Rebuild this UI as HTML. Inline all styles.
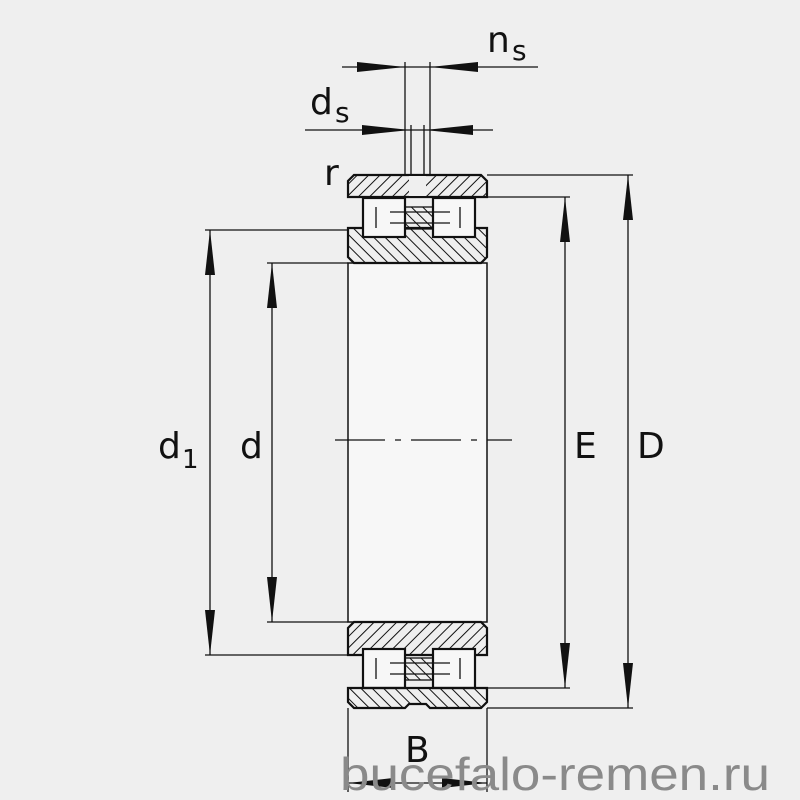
<!DOCTYPE html>
<html><head><meta charset="utf-8"><style>
html,body{margin:0;padding:0;background:#efefef;}
svg{display:block}
text{font-family:"DejaVu Sans","Liberation Sans",sans-serif;fill:#111}
</style></head><body>
<svg width="800" height="800" viewBox="0 0 800 800" xmlns="http://www.w3.org/2000/svg">
<defs>
<pattern id="h1" patternUnits="userSpaceOnUse" width="8" height="8" patternTransform="rotate(45)"><line x1="0" y1="0" x2="0" y2="8" stroke="#111" stroke-width="2"/></pattern>
<pattern id="h2" patternUnits="userSpaceOnUse" width="8" height="8" patternTransform="rotate(-45)"><line x1="0" y1="0" x2="0" y2="8" stroke="#111" stroke-width="2"/></pattern>
</defs>
<rect width="800" height="800" fill="#efefef"/>
<rect x="348" y="263" width="139" height="359" fill="#f7f7f7" stroke="#111" stroke-width="1.5"/>
<g stroke="#111" stroke-width="1.3" fill="none">
<line x1="205" y1="230" x2="348" y2="230"/>
<line x1="205" y1="655" x2="348" y2="655"/>
<line x1="267" y1="263" x2="348" y2="263"/>
<line x1="267" y1="622" x2="348" y2="622"/>
<line x1="487" y1="197" x2="570" y2="197"/>
<line x1="487" y1="688" x2="570" y2="688"/>
<line x1="487" y1="175" x2="633" y2="175"/>
<line x1="487" y1="708" x2="633" y2="708"/>
<line x1="210" y1="230" x2="210" y2="655"/>
<line x1="272" y1="263" x2="272" y2="622"/>
<line x1="565" y1="197" x2="565" y2="688"/>
<line x1="628" y1="175" x2="628" y2="708"/>
<line x1="342" y1="67" x2="538" y2="67"/>
<line x1="305" y1="130" x2="493" y2="130"/>
<line x1="405" y1="62" x2="405" y2="175"/>
<line x1="430" y1="62" x2="430" y2="175"/>
<line x1="411" y1="125" x2="411" y2="175"/>
<line x1="424" y1="125" x2="424" y2="175"/>
<line x1="348" y1="708" x2="348" y2="792"/>
<line x1="487" y1="708" x2="487" y2="792"/>
<line x1="348" y1="783" x2="487" y2="783"/>
<line x1="335" y1="440" x2="512" y2="440" stroke-dasharray="50,10,6,10"/>
</g>
<g fill="#111">
<polygon points="210,230 205,275 215,275"/><polygon points="210,655 205,610 215,610"/>
<polygon points="272,263 267,308 277,308"/><polygon points="272,622 267,577 277,577"/>
<polygon points="565,197 560,242 570,242"/><polygon points="565,688 560,643 570,643"/>
<polygon points="628,175 623,220 633,220"/><polygon points="628,708 623,663 633,663"/>
<polygon points="405,67 357,62 357,72"/><polygon points="430,67 478,62 478,72"/>
<polygon points="410,130 362,125 362,135"/><polygon points="425,130 473,125 473,135"/>
<polygon points="348,783 393,778 393,788"/><polygon points="487,783 442,778 442,788"/>
</g>
<g stroke="#111" stroke-width="2.2">
<path d="M354,175 H481 L487,181 V197 H348 V181 Z" fill="url(#h1)"/>
<rect x="409" y="176" width="17" height="20" fill="#efefef" stroke="none"/>
<path d="M348,228 H487 V257 L481,263 H354 L348,257 Z" fill="url(#h2)"/>
<rect x="363" y="198" width="42" height="39" fill="#f7f7f7"/>
<rect x="433" y="198" width="42" height="39" fill="#f7f7f7"/>
<rect x="405" y="207" width="28" height="22" fill="url(#h2)" stroke-width="1.3"/>
<path d="M354,622 H481 L487,628 V655 H348 V628 Z" fill="url(#h1)"/>
<rect x="363" y="649" width="42" height="39" fill="#f7f7f7"/>
<rect x="433" y="649" width="42" height="39" fill="#f7f7f7"/>
<rect x="405" y="658" width="28" height="22" fill="url(#h2)" stroke-width="1.3"/>
<path d="M348,688 H487 V702 L481,708 H430 L426,704 H409 L405,708 H354 L348,702 Z" fill="url(#h2)"/>
</g>
<g stroke="#111" stroke-width="1.3">
<line x1="376" y1="207" x2="376" y2="228"/><line x1="460" y1="207" x2="460" y2="228"/>
<line x1="376" y1="658" x2="376" y2="679"/><line x1="460" y1="658" x2="460" y2="679"/>
<line x1="390" y1="212" x2="450" y2="212"/><line x1="390" y1="223" x2="450" y2="223"/>
<line x1="390" y1="663" x2="450" y2="663"/><line x1="390" y1="674" x2="450" y2="674"/>
</g>
<text x="158" y="458" font-size="36">d</text><text x="182" y="468" font-size="26">1</text>
<text x="240" y="458" font-size="36">d</text>
<text x="574" y="458" font-size="36">E</text>
<text x="637" y="458" font-size="36">D</text>
<text x="487" y="52" font-size="36">n</text><text x="512" y="60" font-size="28">s</text>
<text x="310" y="114" font-size="36">d</text><text x="335" y="122" font-size="28">s</text>
<text x="324" y="185" font-size="36">r</text>
<text x="405" y="762" font-size="36">B</text>
<text x="340" y="790" font-size="46" textLength="430" lengthAdjust="spacingAndGlyphs" style="fill:#8a8a8a;font-family:'Liberation Sans',sans-serif">bucefalo-remen.ru</text>
</svg>
</body></html>
